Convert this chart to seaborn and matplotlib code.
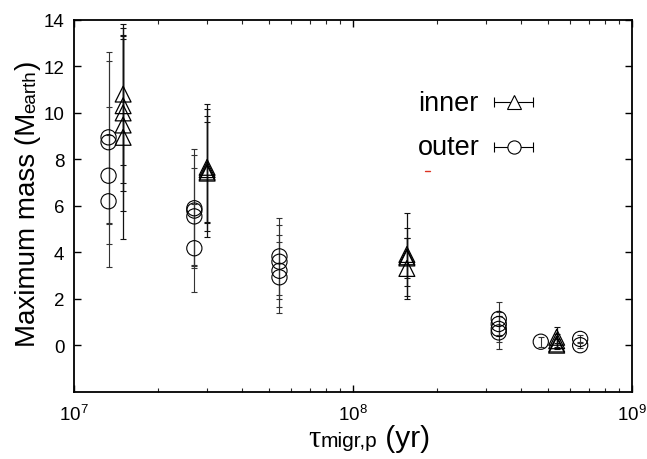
import numpy as np
import pandas as pd
import matplotlib
matplotlib.use('Agg')
import matplotlib.pyplot as plt
import seaborn as sns
from matplotlib.lines import Line2D

# ---------------- data ----------------
inner_tau = [1.5e7, 1.5e7, 1.5e7, 1.5e7, 1.5e7,
             3.0e7, 3.0e7, 3.0e7, 3.0e7,
             1.56e8, 1.56e8, 1.56e8, 1.56e8,
             5.37e8, 5.37e8, 5.37e8, 5.37e8]
inner_mass = [10.80, 10.30, 9.99, 9.47, 8.94,
              7.65, 7.55, 7.45, 7.40,
              3.90, 3.80, 3.75, 3.30,
              0.34, 0.19, 0.05, 0.00]
inner_err = [3.03, 3.33, 3.35, 3.70, 4.37,
             2.72, 2.30, 2.14, 2.76,
             1.79, 1.25, 0.85, 1.30,
             0.43, 0.30, 0.20, 0.10]

outer_tau = [1.33e7, 1.33e7, 1.33e7, 1.33e7,
             2.7e7, 2.7e7, 2.7e7, 2.7e7,
             5.45e7, 5.45e7, 5.45e7, 5.45e7,
             3.33e8, 3.33e8, 3.33e8, 3.33e8,
             4.71e8,
             6.52e8, 6.52e8]
outer_mass = [8.94, 8.73, 7.29, 6.19,
              5.89, 5.79, 5.54, 4.17,
              3.82, 3.59, 3.20, 2.92,
              1.13, 0.91, 0.70, 0.55,
              0.15,
              0.27, 0.00]
outer_err = [3.68, 3.51, 2.95, 2.84,
             2.55, 2.40, 2.10, 1.90,
             1.64, 1.60, 1.55, 1.54,
             0.71, 0.50, 0.55, 0.70,
             0.22,
             0.15, 0.10]

y_ticks = [0, 2, 4, 6, 8, 10, 12, 14]
legend_labels = ["inner", "outer"]

df_in = pd.DataFrame({"tau": inner_tau, "mass": inner_mass, "err": inner_err})
df_out = pd.DataFrame({"tau": outer_tau, "mass": outer_mass, "err": outer_err})

# ---------------- style ----------------
sns.set_theme(style="ticks")
plt.rcParams['font.family'] = ['Liberation Sans', 'DejaVu Sans']
plt.rcParams['mathtext.fontset'] = 'custom'
plt.rcParams['mathtext.rm'] = 'Liberation Sans'
plt.rcParams['mathtext.it'] = 'Liberation Sans:italic'
plt.rcParams['axes.unicode_minus'] = False

W, H = 647, 460
fig = plt.figure(figsize=(W / 100, H / 100), dpi=100)
ax = fig.add_axes([74 / W, (H - 392.7) / H, (632 - 74) / W, (392.7 - 20.7) / H])
ax.set_xscale('log')

# error bars
ax.errorbar(df_out["tau"], df_out["mass"], yerr=df_out["err"], fmt='none',
            ecolor='#333333', elinewidth=0.8, capsize=2.5, capthick=0.8, zorder=2)
ax.errorbar(df_in["tau"], df_in["mass"], yerr=df_in["err"], fmt='none',
            ecolor='#111111', elinewidth=0.9, capsize=2.5, capthick=0.8, zorder=2)

# markers
sns.scatterplot(data=df_out, x="tau", y="mass", marker='o', s=120,
                facecolors='none', edgecolor='black', linewidth=0.8, ax=ax, zorder=3)
sns.scatterplot(data=df_in, x="tau", y="mass", marker='^', s=130,
                facecolors='none', edgecolor='black', linewidth=0.9, ax=ax, zorder=3)

ax.set_xlim(1e7, 1e9)
ax.set_ylim(-2, 14)
ax.set_yticks(y_ticks)
ax.set_xlabel("")
ax.set_ylabel("")
ax.tick_params(which='major', direction='in', length=5, width=1.0,
               top=True, right=True, labelsize=13.5, colors='black')
ax.tick_params(axis='y', which='major', pad=7)
ax.tick_params(axis='x', which='major', pad=9)
ax.tick_params(which='minor', direction='in', length=3, width=0.8,
               top=True, right=True)
ax.tick_params(axis='y', which='minor', left=False, right=False)
for sp in ax.spines.values():
    sp.set_linewidth(1.3)
    sp.set_color('black')

# ---------------- legend (custom) ----------------
leg_y = [0.778, 0.659]
leg_markers = ['^', 'o']
for lab, yy, mk in zip(legend_labels, leg_y, leg_markers):
    ax.plot([0.753, 0.823], [yy, yy], color='black', lw=0.8,
            transform=ax.transAxes, zorder=4)
    ax.plot([0.753, 0.823], [yy, yy], ls='none', marker='|', ms=7, mew=0.8,
            color='black', transform=ax.transAxes, zorder=4)
    ax.plot([0.788], [yy], ls='none', marker=mk, ms=10 if mk == '^' else 9.5,
            mfc='white', mec='black', mew=0.8, transform=ax.transAxes, zorder=5)
    ax.text(0.616, yy - 0.02, lab, fontsize=19.5, ha='left', va='baseline',
            transform=ax.transAxes, color='black')

# small red dash artifact
fig.add_artist(Line2D([425 / W, 430 / W], [(H - 172) / H, (H - 172) / H],
                      color='#dd3322', lw=1.0))

# ---------------- axis labels (composed pieces) ----------------
fig.canvas.draw()
renderer = fig.canvas.get_renderer()


def chain(pieces, x0, y0, rotation):
    x, y = x0, y0
    for txt, size, fam in pieces:
        t = fig.text(x / W, y / H, txt, fontsize=size, family=fam,
                     rotation=rotation, rotation_mode='anchor',
                     ha='left', va='baseline', color='black')
        bb = t.get_window_extent(renderer)
        if rotation == 90:
            y += bb.height
        else:
            x += bb.width


chain([("Maximum mass (M", 20, ['Liberation Sans']),
       ("earth", 13.5, ['Liberation Sans']),
       (")", 20, ['Liberation Sans'])], 35, H - 347, 90)

chain([("τ", 22, ['Liberation Serif']),
       ("migr,p", 15, ['Liberation Sans']),
       (" (yr)", 21.5, ['Liberation Sans'])], 308, H - 447, 0)

fig.savefig("out.png", dpi=100)
